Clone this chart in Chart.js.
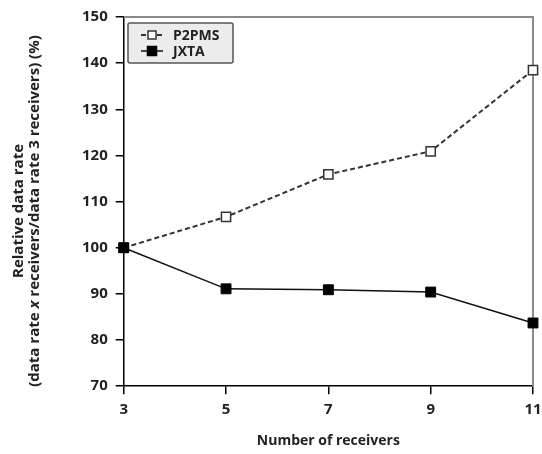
<!DOCTYPE html>
<html>
<head>
<meta charset="utf-8">
<script src="https://cdn.jsdelivr.net/npm/chart.js@4"></script>
<style>
  html, body { margin: 0; padding: 0; background: #fff; }
  #wrap { width: 542px; height: 454px; position: relative; }
</style>
</head>
<body>
<div id="wrap"><canvas id="rateChart"></canvas></div>
<script>
// data
const receivers = [3, 5, 7, 9, 11];
const p2pmsRate = [100, 106.7, 115.9, 120.9, 138.5];
const jxtaRate  = [100, 91.1, 90.9, 90.4, 83.7];
const xTicks = [3, 5, 7, 9, 11];
const yTicks = [70, 80, 90, 100, 110, 120, 130, 140, 150];

const FONT = '"Open Sans", "DejaVu Sans", sans-serif';

function toPoints(values) {
    return receivers.map((r, i) => ({ x: r, y: values[i] }));
}

// grey frame on top and right of the plot
const framePlugin = {
    id: 'frame',
    beforeDatasetsDraw(chart) {
        const { ctx, chartArea: a } = chart;
        ctx.save();
        ctx.strokeStyle = '#8a8a8a';
        ctx.lineWidth = 2;
        ctx.beginPath();
        ctx.moveTo(a.left, a.top);
        ctx.lineTo(a.right, a.top);
        ctx.lineTo(a.right, a.bottom);
        ctx.stroke();
        ctx.restore();
    }
};

// two-line y title, with italic x
const yTitlePlugin = {
    id: 'yTitle',
    afterDraw(chart) {
        const ctx = chart.ctx;
        const cy = 211;
        ctx.save();
        ctx.fillStyle = '#222';
        ctx.textBaseline = 'middle';
        ctx.textAlign = 'left';

        // line 1
        ctx.save();
        ctx.translate(19, cy);
        ctx.rotate(-Math.PI / 2);
        ctx.font = 'bold 15px ' + FONT;
        const l1 = 'Relative data rate';
        ctx.fillText(l1, -ctx.measureText(l1).width / 2, 0);
        ctx.restore();

        // line 2 in pieces
        const parts = [
            ['(data rate ', 'normal'],
            ['x', 'italic'],
            [' receivers/data rate 3 receivers) (%)', 'normal']
        ];
        ctx.save();
        ctx.translate(35, cy);
        ctx.rotate(-Math.PI / 2);
        let total = 0;
        parts.forEach(p => {
            ctx.font = p[1] + ' bold 15px ' + FONT;
            total += ctx.measureText(p[0]).width;
        });
        let x = -total / 2;
        parts.forEach(p => {
            ctx.font = p[1] + ' bold 15px ' + FONT;
            ctx.fillText(p[0], x, 0);
            x += ctx.measureText(p[0]).width;
        });
        ctx.restore();
        ctx.restore();
    }
};

// boxed legend inside the plot, top left
const legendBoxPlugin = {
    id: 'legendBox',
    afterDraw(chart) {
        const ctx = chart.ctx;
        const box = { x: 128, y: 23, w: 105, h: 40 };
        ctx.save();
        ctx.fillStyle = '#ececec';
        ctx.strokeStyle = '#555';
        ctx.lineWidth = 1.5;
        ctx.beginPath();
        ctx.roundRect(box.x, box.y, box.w, box.h, 2);
        ctx.fill();
        ctx.stroke();

        const rows = [chart.data.datasets.find(d => d.label === 'P2PMS'),
                      chart.data.datasets.find(d => d.label === 'JXTA')];
        rows.forEach((ds, i) => {
            const y = box.y + 12 + i * 16;
            ctx.save();
            ctx.strokeStyle = ds.borderColor;
            ctx.lineWidth = ds.borderWidth;
            ctx.setLineDash(ds.borderDash || []);
            ctx.beginPath();
            ctx.moveTo(141, y);
            ctx.lineTo(163, y);
            ctx.stroke();
            ctx.setLineDash([]);
            const s = i === 0 ? 8 : 9;
            ctx.fillStyle = ds.pointBackgroundColor;
            ctx.fillRect(152 - s / 2, y - s / 2, s, s);
            ctx.lineWidth = 1.5;
            ctx.strokeStyle = ds.pointBorderColor;
            ctx.strokeRect(152 - s / 2, y - s / 2, s, s);
            ctx.restore();

            ctx.fillStyle = '#222';
            ctx.font = 'bold 14px ' + FONT;
            ctx.textBaseline = 'middle';
            ctx.textAlign = 'left';
            ctx.fillText(ds.label, 173, y + 1);
        });
        ctx.restore();
    }
};

const ctx = document.getElementById('rateChart').getContext('2d');
new Chart(ctx, {
    type: 'line',
    data: {
        datasets: [
            {
                label: 'JXTA',
                data: toPoints(jxtaRate),
                borderColor: '#111',
                borderWidth: 1.5,
                pointStyle: 'rect',
                pointRadius: 7,
                pointBackgroundColor: '#000',
                pointBorderColor: '#000',
                pointBorderWidth: 1,
                tension: 0,
                clip: false,
                order: 1
            },
            {
                label: 'P2PMS',
                data: toPoints(p2pmsRate),
                borderColor: '#333',
                borderWidth: 2,
                borderDash: [5, 3],
                pointStyle: 'rect',
                pointRadius: 6.5,
                pointBackgroundColor: '#fff',
                pointBorderColor: '#333',
                pointBorderWidth: 1.5,
                tension: 0,
                clip: false,
                order: 2
            }
        ]
    },
    options: {
        responsive: true,
        maintainAspectRatio: false,
        animation: false,
        layout: { padding: { left: 74, right: 9, top: 16, bottom: 5 } },
        plugins: {
            legend: { display: false },
            tooltip: { enabled: false }
        },
        scales: {
            x: {
                type: 'linear',
                min: 3,
                max: 11,
                afterBuildTicks: axis => { axis.ticks = xTicks.map(v => ({ value: v })); },
                // let the last label run into the right margin
                afterFit: axis => { axis.paddingRight = 0; },
                ticks: { color: '#222', font: { family: FONT, size: 15, weight: 'bold' }, padding: 7 },
                grid: { display: true, drawOnChartArea: false, drawTicks: true, tickLength: 8, color: '#000', lineWidth: 1.5 },
                border: { display: true, color: '#000', width: 1.5 },
                title: {
                    display: true,
                    text: 'Number of receivers',
                    color: '#222',
                    font: { family: FONT, size: 14, weight: 'bold' },
                    padding: { top: 6, bottom: 0 }
                }
            },
            y: {
                min: 70,
                max: 150,
                afterBuildTicks: axis => { axis.ticks = yTicks.map(v => ({ value: v })); },
                ticks: { color: '#222', font: { family: FONT, size: 15, weight: 'bold' }, padding: 8 },
                grid: { display: true, drawOnChartArea: false, drawTicks: true, tickLength: 8, color: '#000', lineWidth: 1.5 },
                border: { display: true, color: '#000', width: 1.5 }
            }
        }
    },
    plugins: [framePlugin, yTitlePlugin, legendBoxPlugin]
});
</script>
</body>
</html>
